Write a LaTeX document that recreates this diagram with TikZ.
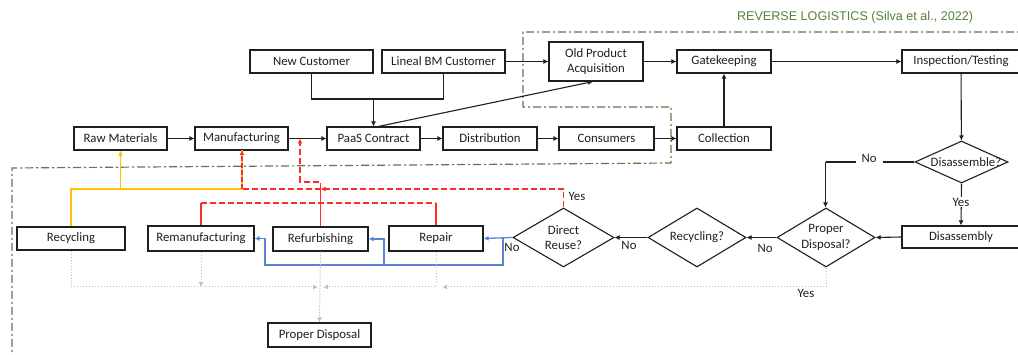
\documentclass[tikz,border=0pt]{standalone}
\usepackage{fontspec}
\setmainfont{Carlito}
\newfontfamily\titlefont{Liberation Sans}
\usetikzlibrary{arrows.meta,shapes.geometric}
\definecolor{ink}{HTML}{1F1F1F}
\definecolor{rlgreen}{HTML}{5E7B45}
\definecolor{rltext}{HTML}{55803A}
\definecolor{rred}{HTML}{FF2A2A}
\definecolor{ryel}{HTML}{FFC000}
\definecolor{rblue}{HTML}{5B85D6}
\definecolor{rgray}{HTML}{BFBFBF}
\begin{document}
\begin{tikzpicture}[x=1pt,y=-1pt,
  txt/.style={text=ink,font=\fontsize{12.8}{15.5}\selectfont},
  box/.style={txt,draw=ink,line width=1.1pt,minimum height=23pt,inner sep=0pt,align=center},
  dia/.style={diamond,draw=ink,line width=1.1pt,inner sep=0pt},
  lbl/.style={txt,inner sep=1pt},
  tip/.style={-{Latex[length=5pt,width=5pt]}},
  line/.style={draw=ink,line width=1.1pt},
  conn/.style={line,tip},
  rl/.style={draw=rlgreen,line width=1.2pt,dash pattern=on 8pt off 3pt on 2pt off 3pt},
  reddash/.style={draw=rred,line width=1.3pt,dash pattern=on 6pt off 3pt},
  redsolid/.style={draw=rred,line width=1.3pt},
  yel/.style={draw=ryel,line width=1.3pt},
  blu/.style={draw=rblue,line width=1.3pt},
  gry/.style={draw=rgray,line width=1pt,dash pattern=on 1.5pt off 1.5pt},
]
\useasboundingbox (0,0) rectangle (1018,355);

% reverse logistics boundary
\draw[rl] (1030,32) -- (523,32) -- (523,107) -- (671,107) -- (671,163) -- (12,168) -- (12,365);
\node[font=\titlefont\fontsize{12.6}{14}\selectfont,text=rltext] (title) at (855,17) {REVERSE LOGISTICS (Silva et al., 2022)};

% top row
\node[box,minimum width=123pt] (nc) at (311.5,61.5) {New Customer};
\node[box,minimum width=123pt] (lbm) at (443.5,61.5) {Lineal BM Customer};
\node[box,minimum width=94pt,minimum height=39pt] (opa) at (596,61.5) {Old Product\\Acquisition};
\node[box,minimum width=94pt] (gk) at (724,61.5) {Gatekeeping};
\node[box,minimum width=118pt] (it) at (961,61.5) {Inspection/Testing};

% middle row
\node[box,minimum width=93pt] (rm) at (120.5,138.5) {Raw Materials};
\node[box,minimum width=93pt] (mf) at (241.5,138.5) {Manufacturing};
\node[box,minimum width=93pt] (pc) at (373.5,138.5) {PaaS Contract};
\node[box,minimum width=94pt] (ds) at (490,138.5) {Distribution};
\node[box,minimum width=95pt] (cs) at (606.5,138.5) {Consumers};
\node[box,minimum width=94pt] (cl) at (724,138.5) {Collection};

% decisions
\node[dia,minimum width=93pt,minimum height=42pt] (dq) at (961.5,162) {};
\node[lbl] (dqt) at (966,162) {Disassemble?};
\node[box,minimum width=118pt,minimum height=22pt] (da) at (961,237) {Disassembly};
\node[dia,minimum width=98pt,minimum height=59pt] (pdq) at (826,237.5) {};
\node[lbl,align=center] (pdqt) at (pdq) {Proper\\Disposal?};
\node[dia,minimum width=98pt,minimum height=59pt] (rq) at (697,237.5) {};
\node[lbl] (rqt) at (rq) {Recycling?};
\node[dia,minimum width=101pt,minimum height=59pt] (drq) at (563.5,237.5) {};
\node[lbl,align=center] (drqt) at (drq) {Direct\\Reuse?};

% bottom row
\node[box,minimum width=94pt,minimum height=25pt] (rp) at (436,238.5) {Repair};
\node[box,minimum width=95pt,minimum height=24pt] (rf) at (320.5,239) {Refurbishing};
\node[box,minimum width=106pt,minimum height=25pt] (rmf) at (201,238.5) {Remanufacturing};
\node[box,minimum width=108pt,minimum height=23pt] (rc) at (71,238.5) {Recycling};
\node[box,minimum width=103pt,minimum height=24pt] (pd) at (319.5,335) {Proper Disposal};

% black connectors
\draw[conn] (rm) -- (mf);
\draw[conn] (mf) -- (pc);
\draw[conn] (pc) -- (ds);
\draw[conn] (ds) -- (cs);
\draw[conn] (cs) -- (cl);
\draw[conn] (cl) -- (gk);
\draw[conn] (lbm) -- (opa);
\draw[conn] (opa) -- (gk);
\draw[conn] (gk) -- (it);
\draw[conn] (it) -- (dq);
\coordinate (j1) at (373.5,99);
\draw[line] (nc.south) |- (j1) -| (lbm.south);
\draw[conn] (j1) -- (pc.north);
\draw[conn] ([xshift=5pt]pc.north) -- ([xshift=-3pt]opa.south);
\coordinate (c1) at (825.5,162);
\draw[line] (dq.west) -- (c1);
\draw[conn] (c1) -- (c1 |- pdq.north);
\node[lbl,fill=white,inner xsep=6pt] (no1) at (869,158) {No};
\draw[conn] (dq.south) -- (da.north);
\node[lbl,fill=white] (yes1) at (961,202) {Yes};
\draw[conn] (da.west) -- (pdq.east);
\draw[conn] (pdq.west) -- (rq.east);
\node[lbl] (no2) at (765,248) {No};
\draw[conn] (rq.west) -- (drq.east);
\node[lbl] (no3) at (629,245) {No};

% blue
\coordinate (b1) at (503,237.5);
\coordinate (b2) at (503,265);
\coordinate (b3) at (265,265);
\coordinate (b4) at (384,265);
\draw[blu,tip] (drq.west) -- (rp.east);
\draw[blu,tip] (b1) -- (b2) -- (b3) |- (rmf.east);
\draw[blu,tip] (b4) |- (rf.east);
\node[lbl] (no4) at (512,247.5) {No};

% yellow
\coordinate (y1) at (71,189);
\coordinate (y2) at (242,189);
\coordinate (y3) at (120.5,189);
\coordinate (y4) at (242,150);
\draw[yel] (rc.north) -- (y1) -- (y2);
\draw[yel,line width=1.6pt] (y2) -- (y4);
\draw[yel,tip] (y3) -- (rm.south);

% red
\coordinate (r0) at (320.5,189);
\coordinate (r1) at (201,203);
\coordinate (r2) at (436,203);
\coordinate (r3) at (300,138.5);
\draw[redsolid] (rmf.north) -- (r1);
\draw[redsolid] (rp.north) -- (r2);
\draw[reddash] (r1) -- (r2);
\draw[redsolid] (rf.north) -- (r0);
\draw[reddash,tip] (drq.north) |- (r0);
\draw[reddash] (r0) -- (y2);
\draw[draw=rred,line width=1.2pt,dash pattern=on 5pt off 2pt,tip] (y2) -- (y4);
\draw[reddash,tip] (r0) -- (320.5,182) -- (300,182) -- (r3);
\node[lbl] (yes2) at (577,196) {Yes};

% gray dotted
\coordinate (g1) at (318,287);
\coordinate (g2) at (442,287);
\coordinate (g3) at (323,287);
\draw[gry,tip] (rc.south) |- (g1);
\draw[gry,tip] (rmf.south) -- (rmf.south |- g1);
\draw[gry,tip] (rf.south) -- (pd.north);
\draw[gry,tip] (pdq.south) |- (g2);
\draw[gry,tip] (rp.south) |- (g3);
\node[lbl] (yes3) at (806,293) {Yes};
\end{tikzpicture}
\end{document}
